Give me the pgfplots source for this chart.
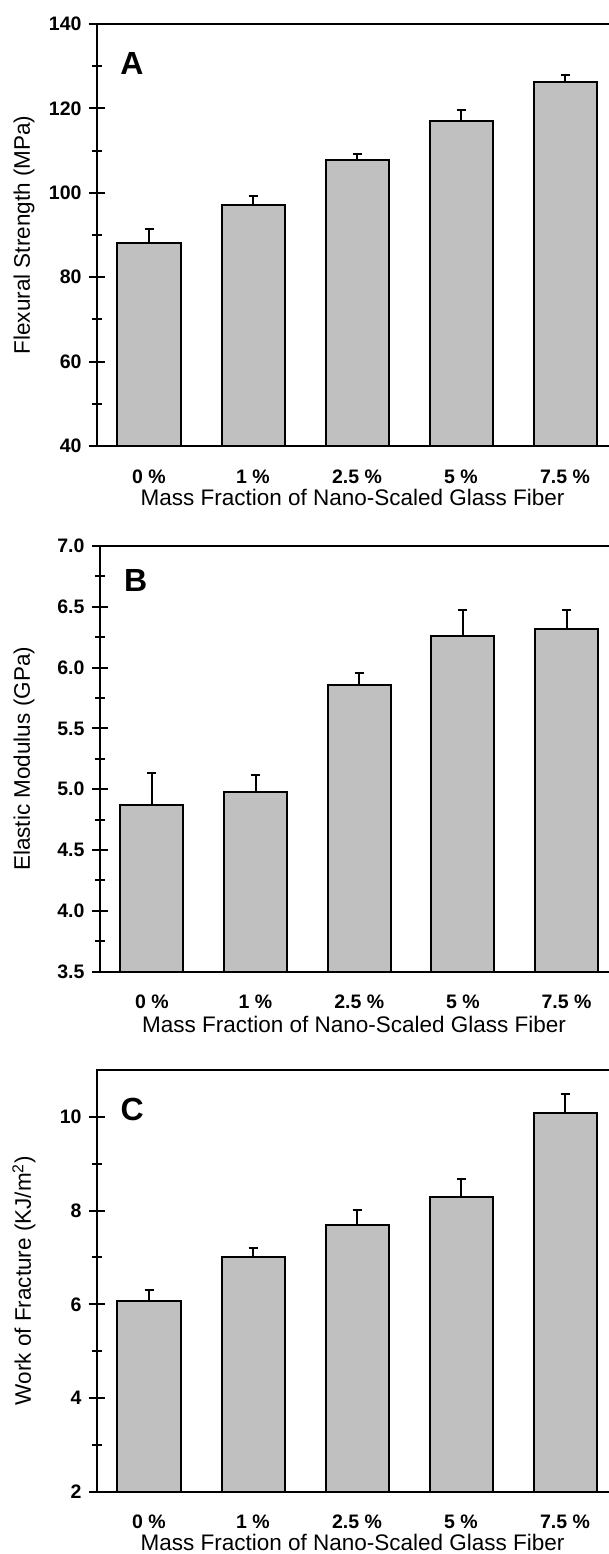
\documentclass[border=0pt]{standalone}
\usepackage{pgfplots}
\pgfplotsset{compat=1.18}
\usepackage{pgfplotstable}
\usepackage{fontspec}
\setmainfont{Liberation Sans}
\definecolor{barfill}{RGB}{192,192,192}

\pgfplotstableread{
x y err
0 88.1 3.3
1 97.2 2.0
2 107.7 1.5
3 116.9 2.8
4 126.3 1.5
}\dataA
\pgfplotstableread{
x y err
0 4.87 0.26
1 4.98 0.14
2 5.86 0.10
3 6.26 0.21
4 6.32 0.15
}\dataB
\pgfplotstableread{
x y err
0 6.08 0.22
1 7.00 0.20
2 7.70 0.31
3 8.28 0.40
4 10.08 0.40
}\dataC

\newcommand{\tickfont}{\bfseries\fontsize{19.5}{21}\selectfont}
\newcommand{\labfont}{\fontsize{22.5}{25}\selectfont}
\newcommand{\letfont}{\bfseries\fontsize{32}{32}\selectfont}

\pgfplotsset{
  panel/.style={
    scale only axis,
    anchor=south west,
    xmin=-0.5,
    xtick={0,1,2,3,4},
    xticklabels={0 \%,1 \%,2.5 \%,5 \%,7.5 \%},
    xtick pos=bottom,
    ytick pos=left,
    major x tick style={draw=none},
    axis line style={draw=none},
    tick align=center,
    major tick length=16pt,
    minor tick length=10pt,
    every tick/.style={black, line width=2pt},
    minor y tick num=1,
    /pgf/number format/assume math mode=true,
    tick label style={font=\tickfont},
    xticklabel style={font=\tickfont, anchor=base, yshift=-21pt},
    yticklabel style={font=\tickfont, anchor=east, xshift=-4pt},
    clip mode=individual,
    ybar, bar width=0.606, bar shift=0pt,
  },
  bars/.style={fill=barfill, draw=black, line width=2pt,
    error bars/.cd, y dir=plus, y explicit,
    error bar style={line width=2pt, black},
    error mark options={rotate=90, mark size=4.5pt, line width=2pt, black}},
}
\newcommand{\frameit}{%
  \draw[line width=2pt, line cap=rect] (rel axis cs:0,0) -- (rel axis cs:1,0);
  \draw[line width=2pt, line cap=rect] (rel axis cs:0,0) -- (rel axis cs:0,1) -- (rel axis cs:1,1);
}
\newcommand{\xlab}[1]{\node[anchor=base, font=\labfont] at (rel axis cs:0.5,#1) {Mass Fraction of Nano-Scaled Glass Fiber};}

\begin{document}
\begin{tikzpicture}
\path[use as bounding box] (0,0) rectangle (608pt,-1554pt);

% Panel A
\begin{axis}[panel, at={(97pt,-446pt)}, width=511pt, height=422pt,
  xmax=4.413, ymin=40, ymax=140, ytick={40,60,80,100,120,140}]
\addplot[bars] table[x=x, y=y, y error=err] {\dataA};
\frameit
\node[font=\letfont] at (rel axis cs:0.0685,0.906) {A};
\node[rotate=90, font=\labfont] at (rel axis cs:-0.1429,0.5) {Flexural Strength (MPa)};
\xlab{-0.1398}
\end{axis}

% Panel B
\begin{axis}[panel, at={(100pt,-971.7pt)}, width=508pt, height=425.7pt,
  xmax=4.40, ymin=3.5, ymax=7.0, ytick={3.5,4.0,...,7.0},
  yticklabel style={/pgf/number format/.cd, fixed, fixed zerofill, precision=1}]
\addplot[bars] table[x=x, y=y, y error=err] {\dataB};
\frameit
\node[font=\letfont] at (rel axis cs:0.07,0.92) {B};
\node[rotate=90, font=\labfont] at (rel axis cs:-0.1496,0.5) {Elastic Modulus (GPa)};
\xlab{-0.143}
\end{axis}

% Panel C
\begin{axis}[panel, at={(97pt,-1491.7pt)}, width=511pt, height=421.7pt,
  xmax=4.413, ymin=2, ymax=11, ytick={2,4,6,8,10}]
\addplot[bars] table[x=x, y=y, y error=err] {\dataC};
\frameit
\node[font=\letfont] at (rel axis cs:0.069,0.907) {C};
\node[rotate=90, font=\labfont] at (rel axis cs:-0.1429,0.5) {Work of Fracture (KJ/m\textsuperscript{2})};
\xlab{-0.14}
\end{axis}
\end{tikzpicture}
\end{document}
